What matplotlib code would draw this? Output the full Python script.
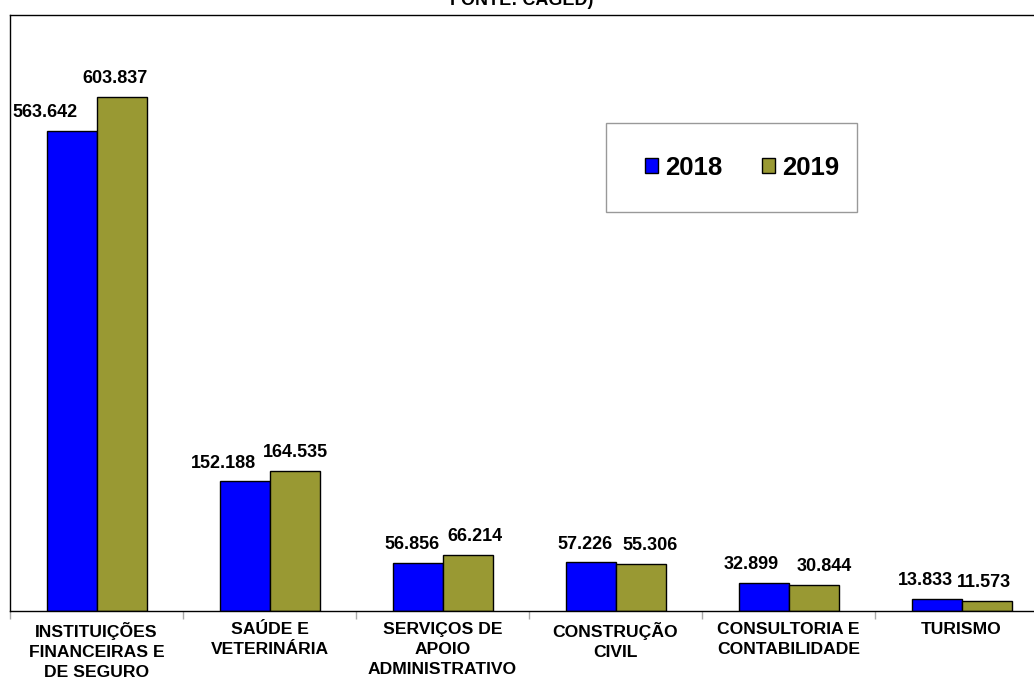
import matplotlib
matplotlib.use("Agg")
import matplotlib.pyplot as plt
from matplotlib.patches import Rectangle
import numpy as np

categories = [
    "INSTITUIÇÕES\nFINANCEIRAS E\nDE SEGURO",
    "SAÚDE E\nVETERINÁRIA",
    "SERVIÇOS DE\nAPOIO\nADMINISTRATIVO",
    "CONSTRUÇÃO\nCIVIL",
    "CONSULTORIA E\nCONTABILIDADE",
    "TURISMO",
]
values_2018 = [563642, 152188, 56856, 57226, 32899, 13833]
values_2019 = [603837, 164535, 66214, 55306, 30844, 11573]
labels_2018 = ["563.642", "152.188", "56.856", "57.226", "32.899", "13.833"]
labels_2019 = ["603.837", "164.535", "66.214", "55.306", "30.844", "11.573"]

# small horizontal nudges (points) for the value labels, as in the original
shift_2018 = [-19, -15, -4, -4, -9, -8]
shift_2019 = [-5, 1, 5, 7, 8, -2]

plt.rcParams["font.family"] = ["Liberation Sans", "DejaVu Sans"]

fig = plt.figure(figsize=(10.34, 6.81), dpi=100)
W, H = 1034, 681
left, right, top, bottom = 10, 1048, 15, 611
ax = fig.add_axes([left / W, 1 - bottom / H, (right - left) / W, (bottom - top) / H])

x = np.arange(len(categories))
bw = 50 / 173
ax.bar(x - bw / 2, values_2018, bw, color="#0000FF", edgecolor="black", linewidth=1, label="2018")
ax.bar(x + bw / 2, values_2019, bw, color="#999933", edgecolor="black", linewidth=1, label="2019")

for i in range(len(x)):
    ax.annotate(labels_2018[i], (x[i] - bw / 2, values_2018[i]), xytext=(shift_2018[i], 7),
                textcoords="offset points", ha="center", va="bottom",
                fontsize=13, fontweight="bold")
    ax.annotate(labels_2019[i], (x[i] + bw / 2, values_2019[i]), xytext=(shift_2019[i], 7),
                textcoords="offset points", ha="center", va="bottom",
                fontsize=13, fontweight="bold")

ax.set_xlim(-0.5, len(categories) - 0.5)
ax.set_ylim(0, 700000)
ax.set_yticks([])
ax.set_xticks(x)
ax.set_xticklabels(categories, fontsize=12.6, fontweight="bold", linespacing=1.42)
ax.tick_params(axis="x", which="major", length=0, pad=8)
ax.set_xticks(np.arange(-0.5, len(categories), 1), minor=True)
ax.tick_params(axis="x", which="minor", length=6, color="#aaaaaa", width=1)

for s in ["left", "top", "bottom"]:
    ax.spines[s].set_color("black")
    ax.spines[s].set_linewidth(1)
ax.spines["right"].set_visible(False)

# legend box drawn separately so the padding matches the original
fig.patches.append(Rectangle((606 / W, 1 - 212 / H), (857 - 606) / W, (212 - 123) / H,
                             transform=fig.transFigure, facecolor="white",
                             edgecolor="#999999", linewidth=1, zorder=3))
leg = fig.legend(*ax.get_legend_handles_labels(), loc="center left",
                 bbox_to_anchor=(645 / W, 1 - 168 / H), ncol=2, frameon=False,
                 prop={"size": 18.5, "weight": "bold"},
                 handlelength=0.52, handleheight=0.52, handletextpad=0.25,
                 columnspacing=1.55, borderpad=0, borderaxespad=0)
leg.set_zorder(4)

fig.text(0.505, 1 - 5 / H, "FONTE: CAGED)", ha="center", va="baseline",
         fontsize=13, fontweight="bold")

fig.savefig("out.png", dpi=100)
